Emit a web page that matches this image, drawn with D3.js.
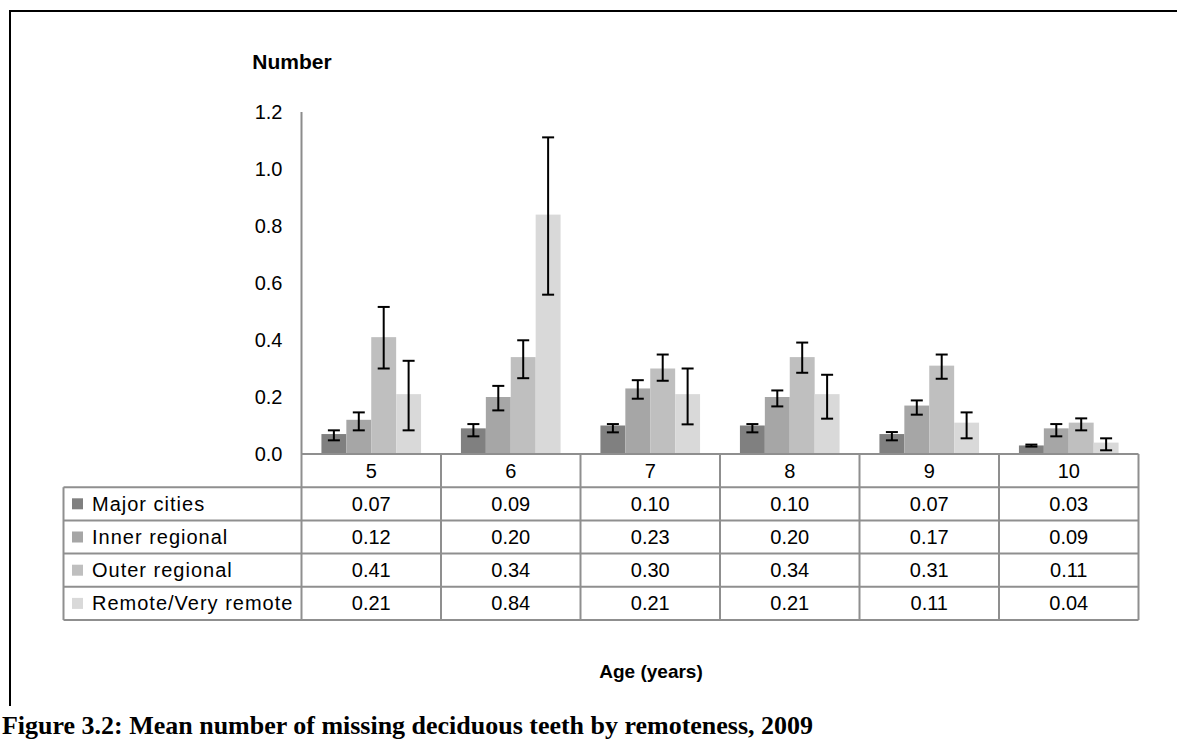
<!DOCTYPE html>
<html>
<head>
<meta charset="utf-8">
<script src="https://cdn.jsdelivr.net/npm/d3@7"></script>
<style>
  html, body { margin: 0; padding: 0; background: #fff; }
  svg { display: block; }
  text { font-family: "Liberation Sans", Arial, sans-serif; fill: #000; }
</style>
</head>
<body>
<svg id="chart" width="1177" height="742"></svg>
<script>
// ---------- data ----------
const ages = ["5", "6", "7", "8", "9", "10"];
const seriesNames = ["Major cities", "Inner regional", "Outer regional", "Remote/Very remote"];
const majorCities    = [0.07, 0.09, 0.10, 0.10, 0.07, 0.03];
const innerRegional  = [0.12, 0.20, 0.23, 0.20, 0.17, 0.09];
const outerRegional  = [0.41, 0.34, 0.30, 0.34, 0.31, 0.11];
const remote         = [0.21, 0.84, 0.21, 0.21, 0.11, 0.04];
// 95% confidence interval bounds
const majorLow   = [0.048, 0.062, 0.076, 0.076, 0.048, 0.026];
const majorHigh  = [0.083, 0.105, 0.105, 0.105, 0.077, 0.033];
const innerLow   = [0.083, 0.153, 0.194, 0.167, 0.138, 0.062];
const innerHigh  = [0.146, 0.239, 0.259, 0.223, 0.188, 0.105];
const outerLow   = [0.300, 0.266, 0.257, 0.285, 0.264, 0.083];
const outerHigh  = [0.516, 0.399, 0.349, 0.391, 0.349, 0.125];
const remoteLow  = [0.083, 0.559, 0.104, 0.124, 0.055, 0.013];
const remoteHigh = [0.327, 1.111, 0.300, 0.278, 0.146, 0.055];
const yTicks = [0, 0.2, 0.4, 0.6, 0.8, 1.0, 1.2];
const colors = ["#808080", "#a6a6a6", "#bfbfbf", "#d9d9d9"];

const values = [majorCities, innerRegional, outerRegional, remote];
const lows   = [majorLow, innerLow, outerLow, remoteLow];
const highs  = [majorHigh, innerHigh, outerHigh, remoteHigh];

// ---------- layout ----------
const svg = d3.select("#chart");
const plotLeft = 301.5, plotRight = 1138.5, plotTop = 112, plotBottom = 454;
const tableLeft = 63.5;
const rowH = 33.2;

const y = d3.scaleLinear().domain([0, 1.2]).range([plotBottom, plotTop]);
const xCol = d3.scaleBand().domain(ages).range([plotLeft, plotRight]).padding(0);
const xSer = d3.scaleBand().domain(seriesNames).range([0, xCol.bandwidth()])
  .paddingInner(0).paddingOuter(0.8);

// outer frame
svg.append("line").attr("x1", 10).attr("x2", 1177).attr("y1", 11).attr("y2", 11)
  .attr("stroke", "#000").attr("stroke-width", 2);
svg.append("line").attr("x1", 10).attr("x2", 10).attr("y1", 10).attr("y2", 706)
  .attr("stroke", "#000").attr("stroke-width", 2);

// y axis
const yAxis = d3.axisLeft(y).tickValues(yTicks).tickSize(0).tickPadding(19)
  .tickFormat(d3.format(".1f"));
const gy = svg.append("g").attr("transform", `translate(${plotLeft},0)`).call(yAxis);
gy.select(".domain").attr("stroke", "#8c8c8c").attr("stroke-width", 2)
  .attr("d", `M0,${plotTop}V${plotBottom}`);
gy.selectAll("text").style("font-size", "20px").style("font-family", "Liberation Sans, Arial, sans-serif")
  .attr("fill", "#000");

svg.append("text").attr("x", 292).attr("y", 69).attr("text-anchor", "middle")
  .style("font-size", "21px").style("font-weight", "bold").text("Number");

// bars
const groups = svg.append("g").selectAll("g").data(seriesNames).join("g")
  .attr("fill", (d, i) => colors[i]);
groups.each(function (s, si) {
  const g = d3.select(this);
  g.selectAll("rect").data(ages).join("rect")
    .attr("x", (a) => xCol(a) + xSer(s))
    .attr("width", xSer.bandwidth())
    .attr("y", (a, i) => y(values[si][i]))
    .attr("height", (a, i) => y(0) - y(values[si][i]));
});

// error bars
const cap = 6;
seriesNames.forEach((s, si) => {
  const g = svg.append("g").attr("stroke", "#000").attr("stroke-width", 2);
  ages.forEach((a, i) => {
    const cx = xCol(a) + xSer(s) + xSer.bandwidth() / 2;
    const lo = y(lows[si][i]), hi = y(highs[si][i]);
    g.append("line").attr("x1", cx).attr("x2", cx).attr("y1", lo).attr("y2", hi);
    g.append("line").attr("x1", cx - cap).attr("x2", cx + cap).attr("y1", lo).attr("y2", lo);
    g.append("line").attr("x1", cx - cap).attr("x2", cx + cap).attr("y1", hi).attr("y2", hi);
  });
});

// data table
const tbl = svg.append("g").attr("stroke", "#8f8f8f").attr("stroke-width", 2);
const rowY = (k) => plotBottom + rowH * k; // k = 0 .. 5
tbl.append("line").attr("x1", plotLeft).attr("x2", plotRight).attr("y1", rowY(0)).attr("y2", rowY(0));
for (let k = 1; k <= 5; k++) {
  tbl.append("line").attr("x1", tableLeft).attr("x2", plotRight).attr("y1", rowY(k)).attr("y2", rowY(k));
}
const colEdges = ages.map((a) => xCol(a)).concat([plotRight]);
colEdges.forEach((cx) => {
  tbl.append("line").attr("x1", cx).attr("x2", cx).attr("y1", rowY(0)).attr("y2", rowY(5));
});
tbl.append("line").attr("x1", tableLeft).attr("x2", tableLeft).attr("y1", rowY(1)).attr("y2", rowY(5));

// header labels
svg.append("g").selectAll("text").data(ages).join("text")
  .attr("x", (a) => xCol(a) + xCol.bandwidth() / 2)
  .attr("y", rowY(0) + rowH / 2)
  .attr("dy", "0.35em").attr("text-anchor", "middle")
  .style("font-size", "20px").text((a) => a);

// rows
seriesNames.forEach((s, si) => {
  const cy = rowY(si + 1) + rowH / 2;
  svg.append("rect").attr("x", 72).attr("y", cy - 5.5).attr("width", 11).attr("height", 11)
    .attr("fill", colors[si]);
  svg.append("text").attr("x", 92).attr("y", cy).attr("dy", "0.35em")
    .style("font-size", "20px").style("letter-spacing", "1px").text(s);
  svg.append("g").selectAll("text").data(ages).join("text")
    .attr("x", (a) => xCol(a) + xCol.bandwidth() / 2)
    .attr("y", cy).attr("dy", "0.35em").attr("text-anchor", "middle")
    .style("font-size", "20px")
    .text((a, i) => d3.format(".2f")(values[si][i]));
});

// x axis title
svg.append("text").attr("x", 651).attr("y", 678).attr("text-anchor", "middle")
  .style("font-size", "19px").style("font-weight", "bold").text("Age (years)");

// figure caption
svg.append("text").attr("x", 2).attr("y", 734)
  .style("font-family", "'Liberation Serif', 'DejaVu Serif', serif")
  .style("font-size", "26px").style("font-weight", "bold")
  .attr("textLength", 811).attr("lengthAdjust", "spacingAndGlyphs")
  .text("Figure 3.2: Mean number of missing deciduous teeth by remoteness, 2009");
</script>
</body>
</html>
